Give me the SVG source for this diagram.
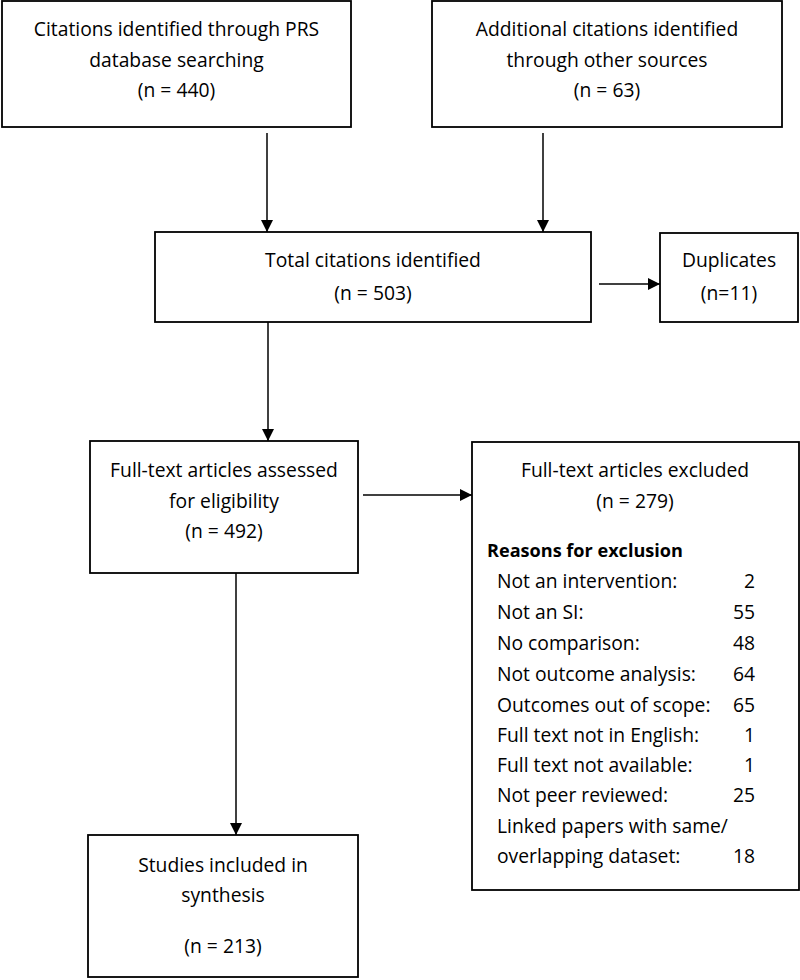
<svg xmlns="http://www.w3.org/2000/svg" width="800" height="980" viewBox="0 0 800 980">
<style>
.box{fill:#fff;stroke:#000;stroke-width:1.8}
.t{font-family:"Open Sans","Noto Sans",sans-serif;font-size:19.3px;fill:#000;text-anchor:middle}
.l{font-family:"Open Sans","Noto Sans",sans-serif;font-size:19.3px;fill:#000}
.r{font-family:"Open Sans","Noto Sans",sans-serif;font-size:19.3px;fill:#000;text-anchor:end}
.b{font-family:"Open Sans","Noto Sans",sans-serif;font-size:18.1px;font-weight:bold;fill:#000}
.c{stroke:#000;stroke-width:1.5;fill:none;marker-end:url(#ah)}
</style>
<defs>
<marker id="ah" markerWidth="12" markerHeight="12" refX="12" refY="6" orient="auto" markerUnits="userSpaceOnUse">
<path d="M0,0 L12,6 L0,12 Z" fill="#000"/>
</marker>
</defs>
<rect width="800" height="980" fill="#fff"/>
<g id="connectors">
<line class="c" x1="267" y1="133" x2="267" y2="232"/>
<line class="c" x1="543" y1="133" x2="543" y2="232"/>
<line class="c" x1="599" y1="284" x2="660" y2="284"/>
<line class="c" x1="268" y1="322" x2="268" y2="441"/>
<line class="c" x1="363" y1="495" x2="472" y2="495"/>
<line class="c" x1="236" y1="567" x2="236" y2="835"/>
</g>
<g id="node-prs">
<rect class="box" x="2" y="1" width="349" height="126"/>
<text class="t" x="176.5" y="36">Citations identified through PRS</text>
<text class="t" x="176.5" y="67">database searching</text>
<text class="t" x="176.5" y="97">(n = 440)</text>
</g>
<g id="node-other">
<rect class="box" x="432" y="1" width="350" height="126"/>
<text class="t" x="607" y="36">Additional citations identified</text>
<text class="t" x="607" y="67">through other sources</text>
<text class="t" x="607" y="97">(n = 63)</text>
</g>
<g id="node-total">
<rect class="box" x="155" y="232" width="436" height="90"/>
<text class="t" x="373" y="267">Total citations identified</text>
<text class="t" x="373" y="300">(n = 503)</text>
</g>
<g id="node-duplicates">
<rect class="box" x="660" y="233" width="138" height="89"/>
<text class="t" x="729" y="267">Duplicates</text>
<text class="t" x="729" y="300">(n=11)</text>
</g>
<g id="node-assessed">
<rect class="box" x="90" y="441" width="268" height="132"/>
<text class="t" x="224" y="477">Full-text articles assessed</text>
<text class="t" x="224" y="508">for eligibility</text>
<text class="t" x="224" y="538">(n = 492)</text>
</g>
<g id="node-excluded">
<rect class="box" x="472" y="442" width="327" height="448"/>
<text class="t" x="635" y="477">Full-text articles excluded</text>
<text class="t" x="635" y="508">(n = 279)</text>
<text class="b" x="487" y="557">Reasons for exclusion</text>
<text class="l" x="497" y="588">Not an intervention:</text><text class="r" x="755" y="588">2</text>
<text class="l" x="497" y="619">Not an SI:</text><text class="r" x="755" y="619">55</text>
<text class="l" x="497" y="650">No comparison:</text><text class="r" x="755" y="650">48</text>
<text class="l" x="497" y="681">Not outcome analysis:</text><text class="r" x="755" y="681">64</text>
<text class="l" x="497" y="711.5">Outcomes out of scope:</text><text class="r" x="755" y="711.5">65</text>
<text class="l" x="497" y="742">Full text not in English:</text><text class="r" x="755" y="742">1</text>
<text class="l" x="497" y="772">Full text not available:</text><text class="r" x="755" y="772">1</text>
<text class="l" x="497" y="802">Not peer reviewed:</text><text class="r" x="755" y="802">25</text>
<text class="l" x="497" y="833">Linked papers with same/</text>
<text class="l" x="497" y="863">overlapping dataset:</text><text class="r" x="755" y="863">18</text>
</g>
<g id="node-included">
<rect class="box" x="88" y="835" width="270" height="142"/>
<text class="t" x="223" y="872">Studies included in</text>
<text class="t" x="223" y="902">synthesis</text>
<text class="t" x="223" y="953">(n = 213)</text>
</g>
</svg>
